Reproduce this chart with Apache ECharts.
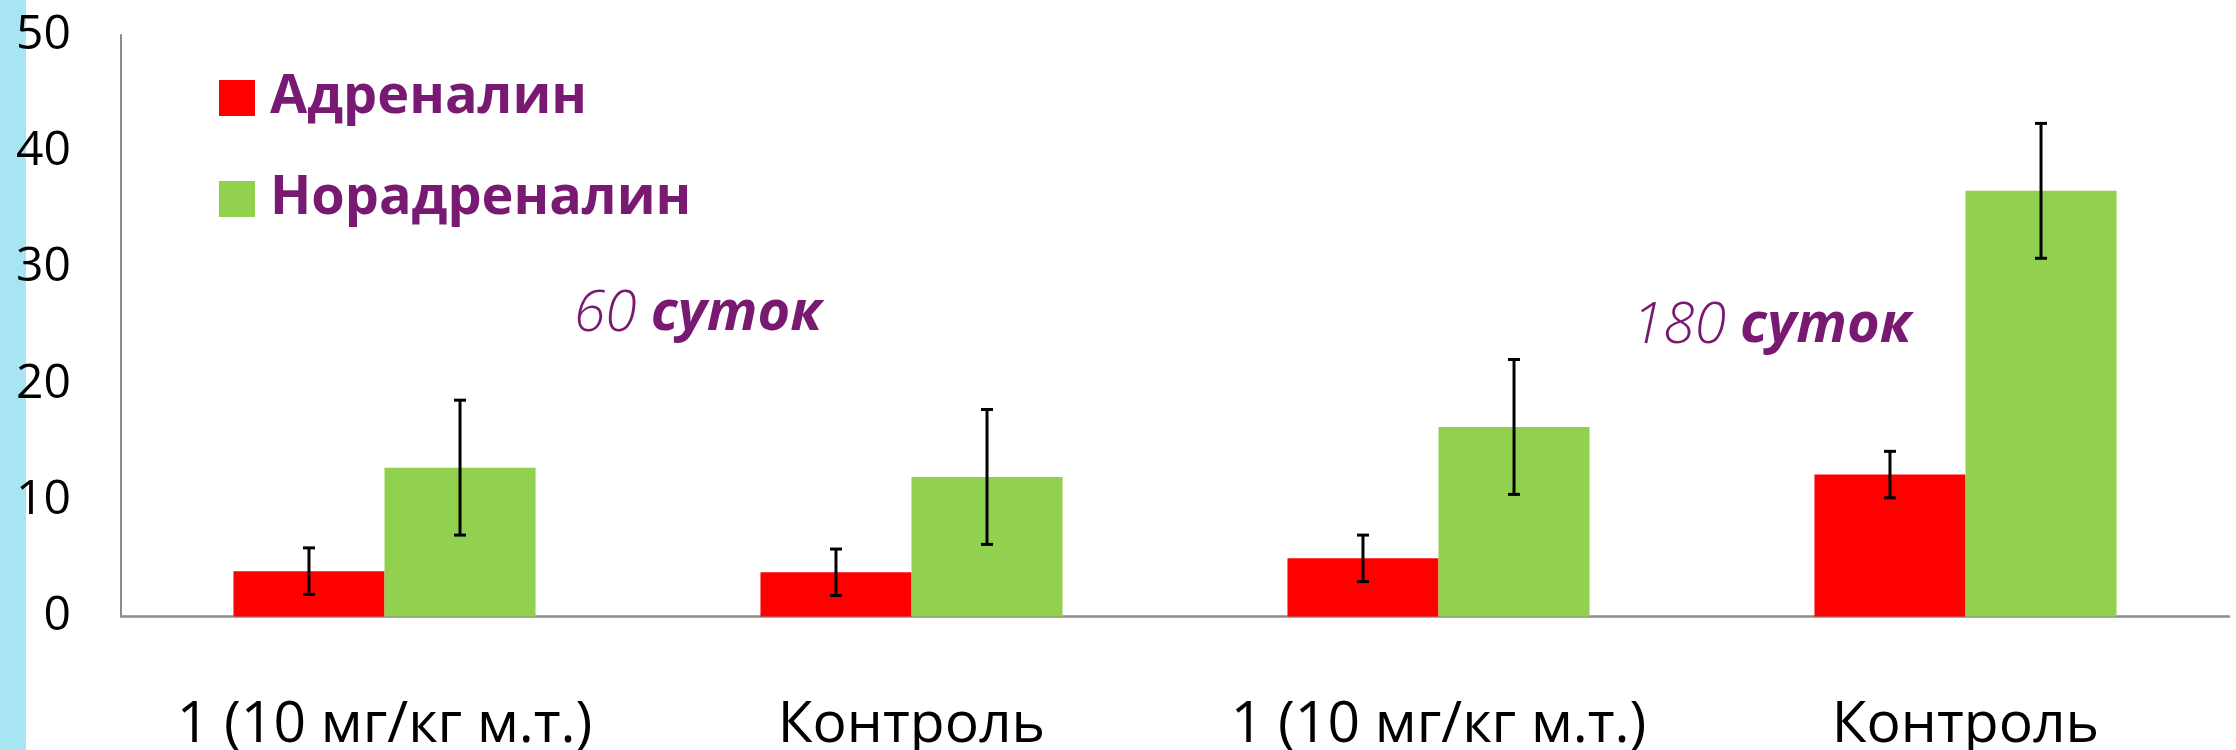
<!DOCTYPE html>
<html>
<head>
<meta charset="utf-8">
<script src="https://cdn.jsdelivr.net/npm/echarts@6/dist/echarts.min.js"></script>
<style>
html,body{margin:0;padding:0;background:#fff;}
#chart{width:2236px;height:750px;}
</style>
</head>
<body>
<div id="chart"></div>
<script>
const categories = ['1 (10 мг/кг м.т.)', 'Контроль', '1 (10 мг/кг м.т.)', 'Контроль'];
const seriesNames = ['Адреналин', 'Норадреналин'];
const adrenalin = [3.9, 3.8, 5.0, 12.2];
const adrenalinErr = [2.0, 2.0, 2.0, 2.0];
const noradrenalin = [12.8, 12.0, 16.3, 36.6];
const noradrenalinErr = [5.8, 5.8, 5.8, 5.8];
const yTicks = [0, 10, 20, 30, 40, 50];
const annotations = [{num: '60', word: 'суток'}, {num: '180', word: 'суток'}];

const BAR_FRAC = 0.2866;
const PURPLE = '#781a72';

function errData(means, errs) {
  return means.map((m, i) => [i, m, errs[i]]);
}

function makeErrSeries(name, means, errs, side) {
  return {
    type: 'custom',
    name: name + ' err',
    data: errData(means, errs),
    encode: {x: 0, y: 1},
    z: 5,
    silent: true,
    renderItem: function (params, api) {
      const idx = api.value(0);
      const m = api.value(1);
      const e = api.value(2);
      const band = api.size([1, 0])[0];
      const off = side * band * BAR_FRAC / 2;
      const top = api.coord([idx, m + e]);
      const bot = api.coord([idx, m - e]);
      const x = top[0] + off;
      const cap = 6;
      const st = {stroke: '#000', lineWidth: 3};
      return {
        type: 'group',
        children: [
          {type: 'line', shape: {x1: x, y1: top[1], x2: x, y2: bot[1]}, style: st},
          {type: 'line', shape: {x1: x - cap, y1: top[1], x2: x + cap, y2: top[1]}, style: st},
          {type: 'line', shape: {x1: x - cap, y1: bot[1], x2: x + cap, y2: bot[1]}, style: st}
        ]
      };
    }
  };
}

const annRich = {
  n: {fontFamily: 'Open Sans', fontStyle: 'italic', fontWeight: 300, fontSize: 57, fill: PURPLE},
  w: {fontFamily: 'Open Sans', fontStyle: 'italic', fontWeight: 'bold', fontSize: 56, fill: PURPLE, padding: [0, 0, 0, 14]}
};

const chart = echarts.init(document.getElementById('chart'));
chart.setOption({
  animation: false,
  backgroundColor: '#ffffff',
  grid: {left: 121, right: 7, top: 35, bottom: 133.5, containLabel: false, outerBoundsMode: 'none'},
  legend: {
    data: seriesNames,
    orient: 'vertical',
    left: 219,
    top: 70,
    padding: 0,
    itemWidth: 36,
    itemHeight: 36,
    itemGap: 45,
    icon: 'rect',
    selectedMode: false,
    textStyle: {
      fontFamily: 'Open Sans',
      fontWeight: 'bold',
      fontSize: 54,
      lineHeight: 56,
      color: PURPLE,
      padding: [0, 0, 0, 10]
    }
  },
  xAxis: {
    type: 'category',
    data: categories,
    axisLine: {lineStyle: {color: '#8c8c8c', width: 2.5}},
    axisTick: {show: false},
    axisLabel: {
      fontFamily: 'Open Sans',
      fontSize: 57,
      lineHeight: 58,
      color: '#000',
      margin: 80,
      interval: 0
    },
    splitLine: {show: false}
  },
  yAxis: {
    type: 'value',
    min: yTicks[0],
    max: yTicks[yTicks.length - 1],
    interval: yTicks[1] - yTicks[0],
    axisLine: {show: true, lineStyle: {color: '#8c8c8c', width: 2}},
    axisTick: {show: false},
    axisLabel: {
      fontFamily: 'Open Sans',
      fontSize: 48,
      color: '#000',
      margin: 50
    },
    splitLine: {show: false}
  },
  series: [
    {
      name: seriesNames[0],
      type: 'bar',
      data: adrenalin,
      barWidth: (BAR_FRAC * 100) + '%',
      barGap: '0%',
      itemStyle: {color: '#ff0000'}
    },
    {
      name: seriesNames[1],
      type: 'bar',
      data: noradrenalin,
      barWidth: (BAR_FRAC * 100) + '%',
      barGap: '0%',
      itemStyle: {color: '#92d050'}
    },
    makeErrSeries(seriesNames[0], adrenalin, adrenalinErr, -1),
    makeErrSeries(seriesNames[1], noradrenalin, noradrenalinErr, 1)
  ],
  graphic: [
    {
      type: 'rect',
      left: 0, top: 0,
      shape: {width: 26, height: 750},
      style: {fill: '#a8e5f2'},
      silent: true
    },
    {
      type: 'text',
      x: 574, y: 343,
      style: {
        text: '{n|' + annotations[0].num + '}{w|' + annotations[0].word + '}',
        verticalAlign: 'bottom',
        fill: PURPLE,
        rich: annRich
      }
    },
    {
      type: 'text',
      x: 1632, y: 355,
      style: {
        text: '{n|' + annotations[1].num + '}{w|' + annotations[1].word + '}',
        verticalAlign: 'bottom',
        fill: PURPLE,
        rich: annRich
      }
    }
  ]
});
</script>
</body>
</html>
